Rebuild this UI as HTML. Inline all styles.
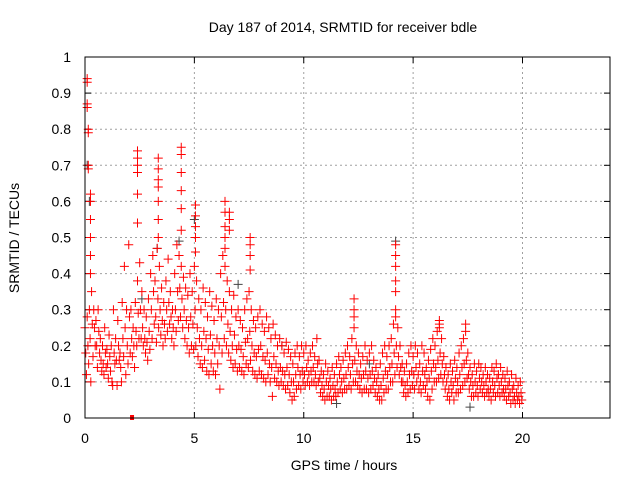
<!DOCTYPE html>
<html><head><meta charset="utf-8"><style>
body{margin:0;background:#fff;}
svg{display:block;font-family:"Liberation Sans",sans-serif;}
</style></head><body>
<svg id="chart" width="640" height="480" viewBox="0 0 640 480" xmlns="http://www.w3.org/2000/svg">
<rect width="640" height="480" fill="#fff"/>
<text x="343" y="32" font-size="14" text-anchor="middle" fill="#000">Day 187 of 2014, SRMTID for receiver bdle</text>
<g id="grid"></g>
<g id="ticks"></g>
<g id="gray"></g>
<g id="red"></g>
<rect x="85" y="57" width="525" height="361" fill="none" stroke="#000" stroke-width="1"/>
<text x="344" y="470" font-size="14" text-anchor="middle">GPS time / hours</text>
<text x="19" y="238" font-size="14" text-anchor="middle" transform="rotate(-90 19 238)">SRMTID / TECUs</text>
</svg>
<script>
const xTicks=[0,5,10,15,20];
const yTicks=[0,0.1,0.2,0.3,0.4,0.5,0.6,0.7,0.8,0.9,1];
const yTickLabels=["0","0.1","0.2","0.3","0.4","0.5","0.6","0.7","0.8","0.9","1"];
const binT=[0,0.1,0.2,0.3,0.4,0.5,0.6,0.7,0.8,0.9,1.0,1.1,1.2,1.3,1.4,1.5,1.6,1.7,1.8,1.9,
2.0,2.1,2.2,2.3,2.4,2.5,2.6,2.7,2.8,2.9,3.0,3.1,3.2,3.3,3.4,3.5,3.6,3.7,3.8,3.9,
4.0,4.1,4.2,4.3,4.4,4.5,4.6,4.7,4.8,4.9,5.0,5.1,5.2,5.3,5.4,5.5,5.6,5.7,5.8,5.9,
6.0,6.1,6.2,6.3,6.4,6.5,6.6,6.7,6.8,6.9,7.0,7.1,7.2,7.3,7.4,7.5,7.6,7.7,7.8,7.9,
8.0,8.1,8.2,8.3,8.4,8.5,8.6,8.7,8.8,8.9,9.0,9.1,9.2,9.3,9.4,9.5,9.6,9.7,9.8,9.9,
10.0,10.1,10.2,10.3,10.4,10.5,10.6,10.7,10.8,10.9,11.0,11.1,11.2,11.3,11.4,11.5,11.6,11.7,11.8,11.9,
12.0,12.1,12.2,12.3,12.4,12.5,12.6,12.7,12.8,12.9,13.0,13.1,13.2,13.3,13.4,13.5,13.6,13.7,13.8,13.9,
14.0,14.1,14.2,14.3,14.4,14.5,14.6,14.7,14.8,14.9,15.0,15.1,15.2,15.3,15.4,15.5,15.6,15.7,15.8,15.9,
16.0,16.1,16.2,16.3,16.4,16.5,16.6,16.7,16.8,16.9,17.0,17.1,17.2,17.3,17.4,17.5,17.6,17.7,17.8,17.9,
18.0,18.1,18.2,18.3,18.4,18.5,18.6,18.7,18.8,18.9,19.0,19.1,19.2,19.3,19.4,19.5,19.6,19.7,19.8,19.9];
const redV=[[0.25,0.18,0.12],[0.28,0.2,0.15],[0.3,0.22,0.1],[0.35,0.26,0.17],[0.3,0.25,0.2],
[0.27,0.2,0.14],[0.3,0.24,0.18],[0.22,0.16,0.13],[0.2,0.15,0.12],[0.25,0.18,0.14],[0.19,0.15,0.11],[0.23,0.17,0.13],[0.2,0.1,0.09],[0.3,0.18,0.15],[0.22,0.16,0.09],[0.27,0.2,0.16],[0.18,0.14,0.1],[0.32,0.22,0.17],[0.42,0.25,0.12],[0.3,0.2,0.15],
[0.48,0.28,0.18],[0.3,0.22,0.17],[0.25,0.2,0.14],[0.32,0.24,0.2],[0.38,0.29,0.22],
[0.43,0.3,0.22],[0.35,0.25,0.2],[0.3,0.22,0.18],[0.28,0.21,0.16],[0.33,0.24,0.19],[0.4,0.3,0.22],[0.45,0.35,0.26],[0.38,0.28,0.21],[0.47,0.33,0.25],[0.42,0.3,0.23],[0.36,0.27,0.2],[0.32,0.26,0.22],[0.38,0.3,0.24],[0.44,0.32,0.26],[0.35,0.28,0.22],[0.3,0.25,0.2],[0.4,0.3,0.24],[0.48,0.35,0.27],[0.45,0.36,0.28],[0.42,0.33,0.25],[0.39,0.3,0.22],[0.36,0.27,0.2],[0.34,0.25,0.18],[0.4,0.28,0.2],[0.35,0.26,0.19],
[0.42,0.3,0.2],[0.38,0.25,0.17],[0.33,0.22,0.15],[0.3,0.2,0.14],[0.36,0.24,0.16],[0.32,0.22,0.13],[0.28,0.19,0.12],[0.35,0.23,0.15],[0.31,0.2,0.13],[0.27,0.18,0.12],[0.33,0.22,0.15],[0.3,0.2,0.08],[0.4,0.28,0.18],[0.45,0.32,0.22],[0.42,0.3,0.2],[0.38,0.26,0.18],[0.35,0.24,0.16],[0.3,0.2,0.14],[0.34,0.23,0.15],[0.28,0.19,0.13],
[0.3,0.2,0.14],[0.27,0.19,0.13],[0.25,0.17,0.12],[0.3,0.21,0.15],[0.33,0.22,0.14],[0.35,0.24,0.16],[0.3,0.2,0.13],[0.27,0.18,0.12],[0.25,0.17,0.11],[0.28,0.19,0.13],[0.3,0.2,0.12],[0.26,0.17,0.11],[0.24,0.16,0.1],[0.28,0.18,0.12],[0.25,0.15,0.1],[0.22,0.14,0.06],[0.26,0.17,0.11],[0.23,0.15,0.1],[0.2,0.13,0.09],[0.22,0.14,0.1],[0.2,0.13,0.09],[0.18,0.12,0.08],[0.21,0.14,0.09],[0.19,0.12,0.07],[0.17,0.1,0.05],[0.15,0.1,0.06],[0.18,0.12,0.08],[0.2,0.14,0.09],[0.17,0.12,0.08],[0.2,0.13,0.1],
[0.18,0.12,0.09],[0.2,0.14,0.1],[0.16,0.12,0.09],[0.18,0.13,0.1],[0.2,0.14,0.1],[0.17,0.12,0.09],[0.22,0.15,0.1],[0.16,0.11,0.07],[0.13,0.09,0.06],[0.12,0.08,0.05],[0.15,0.1,0.06],[0.13,0.09,0.06],[0.11,0.08,0.05],[0.14,0.09,0.06],[0.12,0.08,0.06],[0.15,0.1,0.07],[0.17,0.12,0.08],[0.14,0.1,0.07],[0.16,0.11,0.08],[0.18,0.12,0.08],
[0.2,0.14,0.09],[0.17,0.12,0.08],[0.22,0.15,0.1],[0.25,0.16,0.1],[0.2,0.13,0.09],[0.18,0.12,0.08],[0.15,0.11,0.07],[0.17,0.12,0.08],[0.2,0.13,0.08],[0.16,0.11,0.07],[0.18,0.12,0.08],[0.2,0.13,0.09],[0.16,0.11,0.07],[0.14,0.1,0.06],[0.12,0.08,0.05],[0.15,0.09,0.05],[0.18,0.11,0.07],[0.2,0.13,0.08],[0.17,0.12,0.08],[0.2,0.14,0.1],
[0.22,0.15,0.1],[0.26,0.18,0.12],[0.28,0.2,0.14],[0.25,0.17,0.12],[0.2,0.14,0.1],[0.15,0.1,0.07],[0.13,0.09,0.06],[0.15,0.1,0.07],[0.18,0.12,0.08],[0.2,0.13,0.09],[0.17,0.12,0.08],[0.2,0.14,0.1],[0.18,0.12,0.08],[0.15,0.1,0.07],[0.2,0.13,0.09],[0.18,0.12,0.08],[0.14,0.1,0.06],[0.16,0.11,0.05],[0.19,0.13,0.08],[0.22,0.15,0.1],
[0.2,0.14,0.1],[0.24,0.16,0.11],[0.26,0.18,0.12],[0.22,0.15,0.1],[0.17,0.12,0.08],[0.14,0.1,0.06],[0.12,0.08,0.05],[0.15,0.1,0.07],[0.13,0.09,0.05],[0.16,0.11,0.07],[0.14,0.1,0.07],[0.18,0.12,0.08],[0.2,0.14,0.09],[0.22,0.15,0.1],[0.24,0.16,0.11],[0.18,0.12,0.08],[0.14,0.1,0.06],[0.12,0.09,0.06],[0.15,0.1,0.07],[0.13,0.09,0.06],
[0.15,0.11,0.08],[0.14,0.1,0.07],[0.12,0.09,0.06],[0.14,0.1,0.07],[0.12,0.08,0.06],[0.11,0.08,0.05],[0.14,0.1,0.07],[0.13,0.09,0.06],[0.15,0.11,0.07],[0.12,0.09,0.06],[0.14,0.1,0.07],[0.12,0.08,0.06],[0.11,0.08,0.05],[0.13,0.09,0.06],[0.1,0.07,0.04],[0.12,0.08,0.05],[0.09,0.06,0.04],[0.11,0.07,0.05],[0.09,0.06,0.04],[0.1,0.07,0.05]];
const spikeT=[0.1,0.1,0.1,0.1,0.15,0.15,0.15,0.15,0.25,0.25,0.25,0.25,0.25,0.25,
2.4,2.4,2.4,2.4,2.4,2.4,3.35,3.35,3.35,3.35,3.35,3.35,3.35,4.4,4.4,4.4,4.4,4.4,4.4,
5.05,5.05,5.05,5.05,5.05,6.4,6.4,6.4,6.4,6.4,6.6,6.6,6.6,7.55,7.55,7.55,7.55,
12.3,12.3,12.3,14.2,14.2,14.2,14.2,14.2,14.2,16.2,16.2,17.4];
const spikeV=[0.93,0.94,0.86,0.87,0.79,0.8,0.7,0.69,0.62,0.6,0.55,0.5,0.45,0.4,
0.74,0.72,0.7,0.68,0.62,0.54,0.72,0.69,0.66,0.64,0.6,0.55,0.5,0.75,0.73,0.68,0.63,0.58,0.52,
0.59,0.56,0.53,0.5,0.46,0.6,0.57,0.53,0.5,0.47,0.57,0.55,0.52,0.5,0.48,0.45,0.41,
0.33,0.3,0.28,0.48,0.45,0.42,0.38,0.35,0.3,0.27,0.25,0.26];
const grayT=[0.1,0.2,3.3,4.3,5.0,14.2,7.0,11.5,17.6,2.6,9.0,13.0];
const grayV=[0.7,0.6,0.47,0.49,0.55,0.49,0.37,0.04,0.03,0.33,0.2,0.15];
const squareT=[2.15];
const squareV=[0];

const X0=85,X1=610,Y0=418,Y1=57;
const sx=t=>X0+(t/24)*(X1-X0);
const sy=v=>Y0-v*(Y0-Y1);
const NS="http://www.w3.org/2000/svg";
function mk(tag,parent){const e=document.createElementNS(NS,tag);parent.appendChild(e);return e;}
const grid=document.getElementById('grid'),ticks=document.getElementById('ticks');
xTicks.forEach(t=>{
  const x=sx(t);
  if(t>0){const g=mk('line',grid);g.setAttribute('x1',x);g.setAttribute('x2',x);g.setAttribute('y1',Y1);g.setAttribute('y2',Y0);g.setAttribute('stroke','#a0a0a0');g.setAttribute('stroke-dasharray','2,3');
  
  }
  const l=mk('text',ticks);l.setAttribute('x',x);l.setAttribute('y',443);l.setAttribute('font-size','14');l.setAttribute('text-anchor','middle');l.textContent=String(t);
  
  
  [[Y0,Y0-6],[Y1,Y1+6]].forEach(p=>{const k=mk('line',ticks);k.setAttribute('x1',x);k.setAttribute('x2',x);k.setAttribute('y1',p[0]);k.setAttribute('y2',p[1]);k.setAttribute('stroke','#000');
  
  });
});
yTicks.forEach((v,i)=>{
  const y=sy(v);
  if(v>0&&v<1){const g=mk('line',grid);g.setAttribute('x1',X0);g.setAttribute('x2',X1);g.setAttribute('y1',y);g.setAttribute('y2',y);g.setAttribute('stroke','#a0a0a0');g.setAttribute('stroke-dasharray','2,3');
  
  }
  const l=mk('text',ticks);l.setAttribute('x',71);l.setAttribute('y',y+5);l.setAttribute('font-size','14');l.setAttribute('text-anchor','end');l.textContent=yTickLabels[i];
  
  
  [[X0,X0+6],[X1,X1-6]].forEach(p=>{const k=mk('line',ticks);k.setAttribute('y1',y);k.setAttribute('y2',y);k.setAttribute('x1',p[0]);k.setAttribute('x2',p[1]);k.setAttribute('stroke','#000');
  
  });
});
function cross(parent,t,v,color,name){
  const x=sx(t),y=sy(v);
  const p=mk('path',parent);
  p.setAttribute('d',`M${x-4.5},${y}h9M${x},${y-4.5}v9`);
  p.setAttribute('stroke',color);p.setAttribute('stroke-width','1');
  
  
}
const gray=document.getElementById('gray'),red=document.getElementById('red');
grayT.forEach((t,i)=>cross(gray,t,grayV[i],'#444','gray-point'));
binT.forEach((t,i)=>{redV[i].forEach((v,j)=>cross(red,t+j*0.033,v,'#ff0000','red-point'));});
spikeT.forEach((t,i)=>cross(red,t,spikeV[i],'#ff0000','red-spike-point'));
squareT.forEach((t,i)=>{const r=mk('rect',red);r.setAttribute('x',sx(t)-2);r.setAttribute('y',sy(squareV[i])-3);r.setAttribute('width',4);r.setAttribute('height',5);r.setAttribute('fill','#ff0000');
  
  });
</script>
</body></html>
